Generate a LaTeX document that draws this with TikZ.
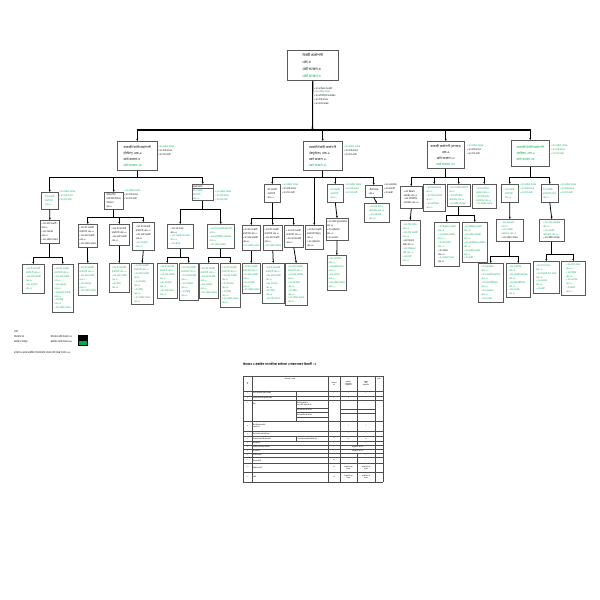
\documentclass[tikz,border=0pt]{standalone}
\usepackage{fontspec}
\setmainfont[Script=Bengali]{Hind Siliguri}
\usetikzlibrary{arrows.meta,shapes.multipart}
\definecolor{pgreen}{RGB}{0,170,75}
\newcommand{\grn}[1]{\textcolor{pgreen}{#1}}
\newcommand{\blk}[1]{\textcolor{black}{#1}}
\newcommand{\usp}{১ জন উপ-সহকারী\\প্রকৌশলী, গ্রেড-১০}
\newcommand{\kas}{১ জন কার্য সহকারী\\গ্রেড-২০}
\newcommand{\srv}{১ জন সার্ভেয়ার\\গ্রেড-১৫}
\newcommand{\ofs}{১ জন অফিস সহায়ক\\গ্রেড-২০}
\newcommand{\mst}{১ জন মিস্ত্রি\\গ্রেড-১৯}

\tikzset{
	orgbox/.style={draw=black!65, line width=1.6pt, fill=white, anchor=north west, inner sep=0.8mm, align=left, font=\fontsize{6}{11.2}\selectfont},
	gbox/.style={orgbox, text=pgreen},
	sidetext/.style={anchor=north west, inner sep=0pt, align=left, font=\fontsize{6}{11.2}\selectfont},
	lvtwo/.style={font=\fontsize{8.5}{17}\selectfont},
	link/.style={line width=2.2pt, -{Stealth[length=2.2mm,width=2mm]}},
	tline/.style={line width=0.8pt, black!70},
	tcell/.style={inner sep=0pt, align=center, font=\fontsize{4.5}{5.5}\selectfont}
}

\begin{document}
\begin{tikzpicture}[x=1mm, y=-1mm]
	\fill[white] (0,0) rectangle (600,600);
	\useasboundingbox (0,0) rectangle (600,600);

	% top
	\node[orgbox, minimum width=51mm, minimum height=30mm, font=\fontsize{9.5}{19.5}\selectfont] (top) at (287,50) {নির্বাহী প্রকৌশলী\\গ্রেড-৫\\মোট জনবল-৫\\\grn{মোট জনবল-৮}};
	\node[sidetext] (topside) at (314,87) {১ জন ব্যক্তিগত সহকারী\\\grn{১ জন অফিস সহায়ক}\\১ জন কম্পিউটার অপারেটর\\১ জন গাড়ি চালক\\১ জন হিসাব রক্ষক};
	\coordinate (bus) at (312.5,130);
	\draw[link, line width=3pt] (top.south) -- (bus);

	% level 2
	\node[orgbox, lvtwo, minimum width=40mm, minimum height=29mm] (l2a) at (117,141) {সহকারী নির্বাহী প্রকৌশলী\\(সিভিল), গ্রেড-৯\\মোট জনবল-৫\\\grn{মোট জনবল-৬৮}};
	\node[orgbox, lvtwo, minimum width=39mm, minimum height=29mm] (l2b) at (303,141) {সহকারী নির্বাহী প্রকৌশলী\\(বৈদ্যুতিক), গ্রেড-৯\\মোট জনবল-১১\\\grn{মোট জনবল-২২}};
	\node[orgbox, lvtwo, align=center, minimum width=37mm, minimum height=27mm] (l2c) at (427,141) {সহকারী প্রকৌশলী (প্রশাসন)\\গ্রেড-৯\\মোট জনবল-১০\\\grn{মোট জনবল-৩৩}};
	\node[gbox, lvtwo, minimum width=38mm, minimum height=26mm] (l2d) at (511,140) {সহকারী নির্বাহী প্রকৌশলী\\(যান্ত্রিক), গ্রেড-৯\\মোট জনবল-৫৫};
	\foreach \c in {l2a,l2b,l2c,l2d}
		\draw[link, line width=3pt] (bus) -| (\c.north);
	\node[sidetext] (l2aside) at (158,146) {\grn{১ জন অফিস সহায়ক}\\১ জন গাড়ি চালক\\১ জন নৈশ প্রহরী};
	\node[sidetext] (l2bside) at (344,146) {\grn{১ জন অফিস সহায়ক}\\১ জন গাড়ি চালক\\১ জন নৈশ প্রহরী};
	\node[sidetext] (l2cside) at (467,145) {\grn{১ জন অফিস সহায়ক}\\১ জন গাড়ি চালক\\১ জন নৈশ প্রহরী};
	\node[sidetext, text=pgreen] (l2dside) at (551,145) {১ জন অফিস সহায়ক\\১ জন গাড়ি চালক\\১ জন নৈশ প্রহরী};

	% level 3, civil
	\node[gbox, minimum width=17mm, minimum height=17mm] (l3a1) at (41,192) {উপ-সহকারী\\প্রকৌশলী\\গ্রেড-১০};
	\node[orgbox, minimum width=19mm, minimum height=17mm] (l3a2) at (104,192) {উপবিভাগীয়\\প্রকৌশলী (সিভিল)\\উপজেলা\\গ্রেড-৯};
	\node[orgbox, rectangle split, rectangle split parts=2, text width=19.4mm] (l3a3) at (192,184) {ড্রাফটসম্যান\nodepart{two}\grn{উপ-সহকারী}\\\grn{প্রকৌশলী}\\\grn{গ্রেড-১০}\\[1mm]};
	\foreach \c in {l3a1,l3a2,l3a3}
		\draw[link] (l2a.south) -- ++(0,7) -| (\c.north);
	\node[sidetext, text=pgreen] (l3a1side) at (59,191) {১ জন অফিস সহায়ক\\১ জন গাড়ি চালক\\১ জন নৈশ প্রহরী};
	\node[sidetext] (l3a2side) at (124,190) {\grn{১ জন অফিস সহায়ক}\\১ জন গাড়ি চালক\\১ জন নৈশ প্রহরী};
	\node[sidetext, text=pgreen] (l3a3side) at (215,191) {১ জন অফিস সহায়ক\\১ জন গাড়ি চালক\\১ জন নৈশ প্রহরী};

	\node[orgbox, minimum width=19mm, minimum height=23mm] (l4a1) at (40,220) {\kas\\\srv\\১ জন অফিস সহায়ক};
	\draw[link] (l3a1.south) -- (l4a1.north);
	\node[gbox, minimum width=22mm, minimum height=29mm] (l5a1) at (22,264) {\usp\\\kas\\\srv};
	\node[gbox, minimum width=21mm, minimum height=48mm] (l5a2) at (52,264) {\usp\\\kas\\\srv\\১ জন হিসাব সহকারী\\গ্রেড-১৬\\\mst\\১ জন অফিস সহায়ক};
	\foreach \c in {l5a1,l5a2}
		\draw[link] (l4a1.south) -- ++(0,14) -| (\c.north);

	\node[orgbox, minimum width=19mm, minimum height=23mm] (l4a2) at (78,224) {\usp\\\kas\\১ জন অফিস সহায়ক};
	\node[orgbox, minimum width=20mm, minimum height=21mm] (l4a3) at (109,224) {\usp\\\kas};
	\node[orgbox, minimum width=22mm, minimum height=28mm] (l4a4) at (132,222) {\usp\\\kas\\\grn{১ জন সার্ভেয়ার}\\\grn{গ্রেড-১৫}};
	\foreach \c in {l4a2,l4a3,l4a4}
		\draw[link] (l3a2.south) -- ++(0,8) -| (\c.north);
	\node[gbox, minimum width=19mm, minimum height=32mm] (l5a3) at (78,263) {\usp\\\kas\\\srv\\১ জন অফিস সহায়ক};
	\node[gbox, minimum width=20mm, minimum height=29mm] (l5a4) at (109,263) {\usp\\\kas\\\mst};
	\node[gbox, minimum width=22mm, minimum height=41mm] (l5a5) at (131,263) {\usp\\\kas\\\srv\\\mst\\\ofs};
	\draw[link] (l4a2.south) -- (l5a3.north);
	\draw[link] (l4a3.south) -- (l5a4.north);
	\draw[link] (l4a4.south) -- (l5a5.north);

	\node[orgbox, minimum width=26mm, minimum height=24mm] (l4a5) at (167,224) {১ জন নকশাকার\\গ্রেড-১৩\\\grn{১ জন সহকারী নকশাকার}\\\grn{গ্রেড-১৬}\\\grn{১ জন ট্রেসার}};
	\node[gbox, minimum width=27mm, minimum height=24mm] (l4a6) at (207,224) {১ জন উপ-সহকারী প্রকৌশলী\\গ্রেড-১০\\১ জন কম্পিউটার অপারেটর\\গ্রেড-১৬\\১ জন অফিস সহায়ক};
	\foreach \c in {l4a5,l4a6}
		\draw[link] (l3a3.south) -- ++(0,9) -| (\c.north);
	\node[gbox, minimum width=20mm, minimum height=35mm] (l5a6) at (157,263) {\usp\\\kas\\\srv\\১ জন গাড়ি চালক\\গ্রেড-১৫};
	\node[gbox, minimum width=19mm, minimum height=37mm] (l5a7) at (179,263) {\usp\\\kas\\\srv\\\mst};
	\node[gbox, minimum width=19mm, minimum height=35mm] (l5a8) at (199,263) {\usp\\\kas\\\srv\\১ জন অফিস সহায়ক};
	\node[gbox, minimum width=20mm, minimum height=44mm] (l5a9) at (220,263) {\usp\\\kas\\\srv\\\mst\\\ofs};
	\foreach \c in {l5a6,l5a7}
		\draw[link] (l4a5.south) -- ++(0,9) -| (\c.north);
	\foreach \c in {l5a8,l5a9}
		\draw[link] (l4a6.south) -- ++(0,9) -| (\c.north);

	% level 3, electrical
	\node[orgbox, minimum width=16mm, minimum height=18mm] (l3b1) at (264,184) {উপ-সহকারী\\প্রকৌশলী\\গ্রেড-১০};
	\node[orgbox, minimum width=18mm, minimum height=24mm] (l3b2) at (305,225) {১ জন উপ-সহকারী\\প্রকৌশলী (বিদ্যুৎ)\\গ্রেড-১০\\১ জন লাইনম্যান\\গ্রেড-১৮};
	\node[gbox, minimum width=16mm, minimum height=18mm] (l3b3) at (327,184) {উপ-সহকারী\\প্রকৌশলী\\গ্রেড-১০};
	\node[orgbox, minimum width=17mm, minimum height=12mm] (l3b4) at (365,185) {১টি উপকেন্দ্র\\গ্রেড-৯};
	\foreach \c in {l3b1,l3b2,l3b3,l3b4}
		\draw[link] (l2b.south) -- ++(0,7) -| (\c.north);
	\node[sidetext] (l3b1side) at (282,184) {\grn{১ জন অফিস সহায়ক}\\১ জন গাড়ি চালক\\১ জন নৈশ প্রহরী};
	\node[sidetext, text=pgreen] (l3b3side) at (345,184) {১ জন অফিস সহায়ক\\১ জন গাড়ি চালক\\১ জন নৈশ প্রহরী};
	\node[sidetext] (l3b4side) at (384,184) {১ জন অপারেটর\\১ জন সহকারী\\১ জন প্রহরী};

	\node[orgbox, minimum width=18mm, minimum height=25mm] (l4b1) at (242,225) {\usp\\\kas\\\grn{১ জন অফিস সহায়ক}};
	\node[orgbox, minimum width=19mm, minimum height=25mm] (l4b2) at (263,225) {\usp\\\kas\\\grn{১ জন অফিস সহায়ক}};
	\node[orgbox, minimum width=19mm, minimum height=22mm] (l4b3) at (284,225) {\usp\\\kas};
	\foreach \c in {l4b1,l4b2,l4b3}
		\draw[link] (l3b1.south) -- ++(0,16) -| (\c.north);
	\node[gbox, minimum width=18mm, minimum height=30mm] (l5b1) at (242,263) {\usp\\\kas\\\srv\\১ জন অফিস সহায়ক};
	\node[gbox, minimum width=22mm, minimum height=40mm] (l5b2) at (262,263) {\usp\\\kas\\\srv\\\mst\\১ জন গাড়ি চালক};
	\node[gbox, minimum width=22mm, minimum height=42mm] (l5b3) at (285,263) {\usp\\\kas\\\srv\\\mst\\\ofs};
	\draw[link] (l4b1.south) -- (l5b1.north);
	\draw[link] (l4b2.south) -- (l5b2.north);
	\draw[link] (l4b3.south) -- (l5b3.north);

	\node[orgbox, minimum width=20mm, minimum height=22mm] (l4b4) at (326,218) {১ জন লাইন সুপারভাইজার\\গ্রেড-১৪\\১ জন লাইনম্যান\\গ্রেড-১৮\\১ জন হেলপার};
	\node[gbox, minimum width=19mm, minimum height=35mm] (l5b4) at (327,255) {১ জন লাইনম্যান\\গ্রেড-১৮\\১ জন মিটার রিডার\\গ্রেড-১৯\\১ জন হেলপার\\গ্রেড-২০\\১ জন অফিস সহায়ক\\গ্রেড-২০};
	\draw[link] (l3b3.south) -- (l4b4.north);
	\draw[link] (l4b4.south) -- (l5b4.north);
	\node[gbox, minimum width=25mm, minimum height=19mm] (l4b5) at (364,203) {১ জন সাব-স্টেশন\\অপারেটর, গ্রেড-১৬\\১ জন লাইনম্যান\\গ্রেড-১৮};
	\draw[link] (l3b4.south) -- (l4b5.north);

	% level 3, administration
	\node[orgbox, minimum width=22mm, minimum height=22mm] (l3c1) at (400,186) {১ জন উচ্চমান\\সহকারী, গ্রেড-১৪\\১ জন কম্পিউটার\\অপারেটর, গ্রেড-১৬};
	\node[gbox, minimum width=22mm, minimum height=27mm] (l3c2) at (423,184) {১ জন হিসাব রক্ষক\\গ্রেড-১৪\\১ জন হিসাব সহকারী\\গ্রেড-১৬\\১ জন ক্যাশিয়ার\\গ্রেড-১৬};
	\node[gbox, minimum width=23mm, minimum height=22mm] (l3c3) at (447,184) {১ জন সহকারী প্রকৌশলী\\গ্রেড-৯\\১ জন কম্পিউটার\\অপারেটর, গ্রেড-১৬\\১ জন অফিস সহায়ক};
	\node[gbox, minimum width=24mm, minimum height=24mm] (l3c4) at (472,184) {১ জন প্রশাসনিক\\কর্মকর্তা, গ্রেড-১০\\১ জন ডাটা এন্ট্রি\\অপারেটর, গ্রেড-১৬\\১ জন অফিস সহায়ক};
	\foreach \c in {l3c1,l3c2,l3c3,l3c4}
		\draw[link] (l2c.south) -- ++(0,9) -| (\c.north);
	\node[gbox, minimum width=20mm, minimum height=45mm] (l4c1) at (400,220) {১ জন স্টোর কিপার\\গ্রেড-১৬\\১ জন স্টোর সহকারী\\গ্রেড-১৯\\\blk{১ জন নিরাপত্তা}\\\blk{প্রহরী, গ্রেড-২০}\\১ জন পরিচ্ছন্নতা\\কর্মী, গ্রেড-২০\\১ জন মালী\\গ্রেড-২০};
	\draw[link] (l3c1.south) -- (l4c1.north);
	\node[gbox, minimum width=25mm, minimum height=44mm] (l4c2) at (434,222) {১ জন উচ্চমান সহকারী\\গ্রেড-১৪\\১ জন অফিস সহকারী\\গ্রেড-১৬\\১ জন নকশাকার\\গ্রেড-১৩\\\blk{১ জন ট্রেসার}\\\blk{গ্রেড-১৬}\\১ জন অফিস সহায়ক\\\blk{গ্রেড-২০}};
	\node[gbox, minimum width=25mm, minimum height=40mm] (l4c3) at (462,222) {১ জন উচ্চমান সহকারী\\গ্রেড-১৪\\১ জন অফিস সহকারী\\গ্রেড-১৬\\১ জন কম্পিউটার অপারেটর\\গ্রেড-১৬\\১ জন অফিস সহায়ক\\গ্রেড-২০\\১ জন প্রহরী};
	\foreach \c in {l4c2,l4c3}
		\draw[link] (l3c3.south) -- ++(0,9) -| (\c.north);

	% level 3, mechanical
	\node[gbox, minimum width=17mm, minimum height=18mm] (l3d1) at (501,184) {উপ-সহকারী\\প্রকৌশলী\\গ্রেড-১০};
	\node[gbox, minimum width=17mm, minimum height=18mm] (l3d2) at (541,184) {উপ-সহকারী\\প্রকৌশলী (পাম্প)\\গ্রেড-১০};
	\foreach \c in {l3d1,l3d2}
		\draw[link] (l2d.south) -- ++(0,11) -| (\c.north);
	\node[sidetext, text=pgreen] (l3d1side) at (520,184) {১ জন অফিস সহায়ক\\১ জন গাড়ি চালক\\১ জন নৈশ প্রহরী};
	\node[sidetext, text=pgreen] (l3d2side) at (560,184) {১ জন অফিস সহায়ক\\১ জন গাড়ি চালক\\১ জন নৈশ প্রহরী};
	\node[gbox, minimum width=27mm, minimum height=22mm] (l4d1) at (496,219) {১ জন ফোরম্যান\\গ্রেড-১৩\\১ জন সহকারী\\ফোরম্যান, গ্রেড-১৫\\\blk{১ জন অফিস সহায়ক}};
	\node[gbox, minimum width=25mm, minimum height=22mm] (l4d2) at (539,219) {১ জন পাম্প অপারেটর\\গ্রেড-১৬\\১ জন সহকারী\\অপারেটর, গ্রেড-১৮\\\blk{১ জন অফিস সহায়ক}};
	\draw[link] (l3d1.south) -- (l4d1.north);
	\draw[link] (l3d2.south) -- (l4d2.north);
	\node[gbox, minimum width=25mm, minimum height=39mm] (l5d1) at (478,263) {১ জন মেকানিক\\গ্রেড-১৬\\১ জন সহকারী মেকানিক\\গ্রেড-১৮\\১ জন ইলেকট্রিশিয়ান\\গ্রেড-১৬\\১ জন ওয়েল্ডার\\গ্রেড-১৮\\১ জন হেলপার};
	\node[gbox, minimum width=24mm, minimum height=34mm] (l5d2) at (506,263) {১ জন মেকানিক\\গ্রেড-১৬\\১ জন সহকারী মেকানিক\\গ্রেড-১৮\\১ জন ইলেকট্রিশিয়ান\\গ্রেড-১৬\\১ জন হেলপার\\গ্রেড-২০};
	\node[gbox, minimum width=26mm, minimum height=32mm] (l5d3) at (533,261) {১ জন পাম্প চালক\\গ্রেড-১৬\\১ জন সহকারী পাম্প চালক\\গ্রেড-১৮\\১ জন হেলপার\\গ্রেড-২০\\১ জন প্রহরী};
	\node[gbox, minimum width=24mm, minimum height=34mm] (l5d4) at (561,261) {১ জন পাম্প চালক\\গ্রেড-১৬\\১ জন ফিটার\\গ্রেড-১৮\\১ জন হেলপার\\গ্রেড-২০\\১ জন প্রহরী\\গ্রেড-২০};
	\foreach \c in {l5d1,l5d2}
		\draw[link] (l4d1.south) -- ++(0,15) -| (\c.north);
	\foreach \c in {l5d3,l5d4}
		\draw[link] (l4d2.south) -- ++(0,13) -| (\c.north);

	% legend
	\begin{scope}[every node/.style={sidetext, font=\fontsize{6.5}{8}\selectfont}]
		\node (note) at (14,331) {নোট:};
		\node (oldpost) at (14,335.5) {বিদ্যমান পদ};
		\node (newpost) at (14,340.5) {প্রস্তাবিত পদসমূহ};
		\node (oldsum) at (50,335.5) {-বিদ্যমান মোট জনবল ৭৫};
		\node (newsum) at (50,340.5) {-প্রস্তাবিত মোট জনবল ৮৮};
		\node (total) at (14,351) {বর্তমানে এ দপ্তরে প্রস্তাবিত নিয়োগযোগ্য পদসহ মোট পদের সংখ্যা ১৬৩};
	\end{scope}
	\filldraw[black] (78,335) rectangle (87,339.5);
	\filldraw[pgreen, draw=black] (78,340.5) rectangle (87,345.5);

	% table
	\node[anchor=west, inner sep=0pt, font=\fontsize{8.4}{10}\selectfont\bfseries] (ttitle) at (243,364) {বিদ্যমান ও প্রস্তাবিত সাংগঠনিক কাঠামো ও সারসংক্ষেপ বিবরণী ঃ};
	\foreach \y in {376,391,395.7,400,421,431,436,441,445,449,453,457.5,463,472,482}
		\draw[tline] (243,\y) -- (383,\y);
	\foreach \x in {243,252,328,340,375,383}
		\draw[tline] (\x,376) -- (\x,482);
	\draw[tline] (357,376) -- (357,445) (357,453) -- (357,482);
	\draw[tline] (296,391) -- (296,421) (296,436) -- (296,441);
	\draw[tline] (296,408) -- (328,408) (296,412.5) -- (328,412.5) (296,417) -- (328,417);
	\draw[tline] (340,409) -- (375,409) (340,413) -- (375,413);
	\node[tcell] (h1) at (247.5,383.5) {ক্র\\নং};
	\node[tcell] (h2) at (290,379) {পদের নাম ও সংখ্যা};
	\node[tcell] (h3) at (334,383.5) {বিদ্যমান\\পদ};
	\node[tcell] (h4) at (348.5,383.5) {প্রস্তাবিত\\জনবল সহ\\অনুমোদিত};
	\node[tcell] (h5) at (366,383.5) {বর্তমান\\মোট\\অনুমোদিত};
	\node[tcell] (h6) at (379,379) {মন্তব্য};
	\foreach \i/\sl/\nm/\ex/\pr/\tt/\y in {
		1/১/{নির্বাহী প্রকৌশলী (সিভিল) দপ্তর}/১/১/১/393.3,
		2/২/{সহকারী প্রকৌশলী (যান্ত্রিক) দপ্তর}/১/১/-/397.8,
		3/৩/{স্টাফ}/১/১/১/403.5,
		4/৪/{বিভাগীয় (প্রথম শ্রেণি)\\সর্বমোট পদ}//২/২/426,
		5/৫/{উপ-বিভাগীয় প্রকৌশলী দপ্তর}//১/১/433.5,
		6/৬/{উপজেলা প্রকৌশলী (উপজেলা)}/১২/১৮/১৮/438.5,
		7/৭/{হিসাবরক্ষক}/১/১/১/443,
		8/৮/{অফিস সহকারী (কম্পিউটার)}/১///447,
		9/৯/{গাড়ি চালক}/১///451,
		10/১০/{অফিস সহায়ক}/-/১/১/455.3,
		11/১১/{নিরাপত্তা প্রহরী}/২৪/১/১/460.3,
		12/১২/{পরিচ্ছন্নতা কর্মী}/৩২/{অনুমোদিত পদ\\রয়েছে}/{অনুমোদিত পদ\\রয়েছে}/467.5,
		13/১৩/{মালী}/৩৬/{অনুমোদিত পদ\\রয়েছে}/{অনুমোদিত পদ\\রয়েছে}/477}
	{
		\node[tcell] (sl\i) at (247.5,\y) {\sl};
		\node[tcell, anchor=west, align=left] (nm\i) at (253,\y) {\nm};
		\node[tcell] (ex\i) at (334,\y) {\ex};
		\node[tcell] (pr\i) at (348.5,\y) {\pr};
		\node[tcell] (tt\i) at (366,\y) {\tt};
	}
	\node[tcell] (mg8) at (357.5,447) {অনুমোদিত পদ নেই};
	\node[tcell] (mg9) at (357.5,451) {অনুমোদিত পদ নেই};
	\node[tcell, anchor=west, align=left] (sub1) at (297,404) {নির্বাহী প্রকৌশলী ও\\সহঃ নির্বাহী প্রকৌশলী পদ};
	\node[tcell, anchor=west] (sub2) at (297,410.2) {উপ-সহকারী প্রকৌশলী পদ};
	\node[tcell, anchor=west] (sub3) at (297,414.7) {উপ-সহকারী প্রকৌশলী পদ};
	\node[tcell, anchor=west] (sub6) at (297,438.5) {১৩ জন উপ-সহকারী প্রকৌশলী পদ};
\end{tikzpicture}
\end{document}
